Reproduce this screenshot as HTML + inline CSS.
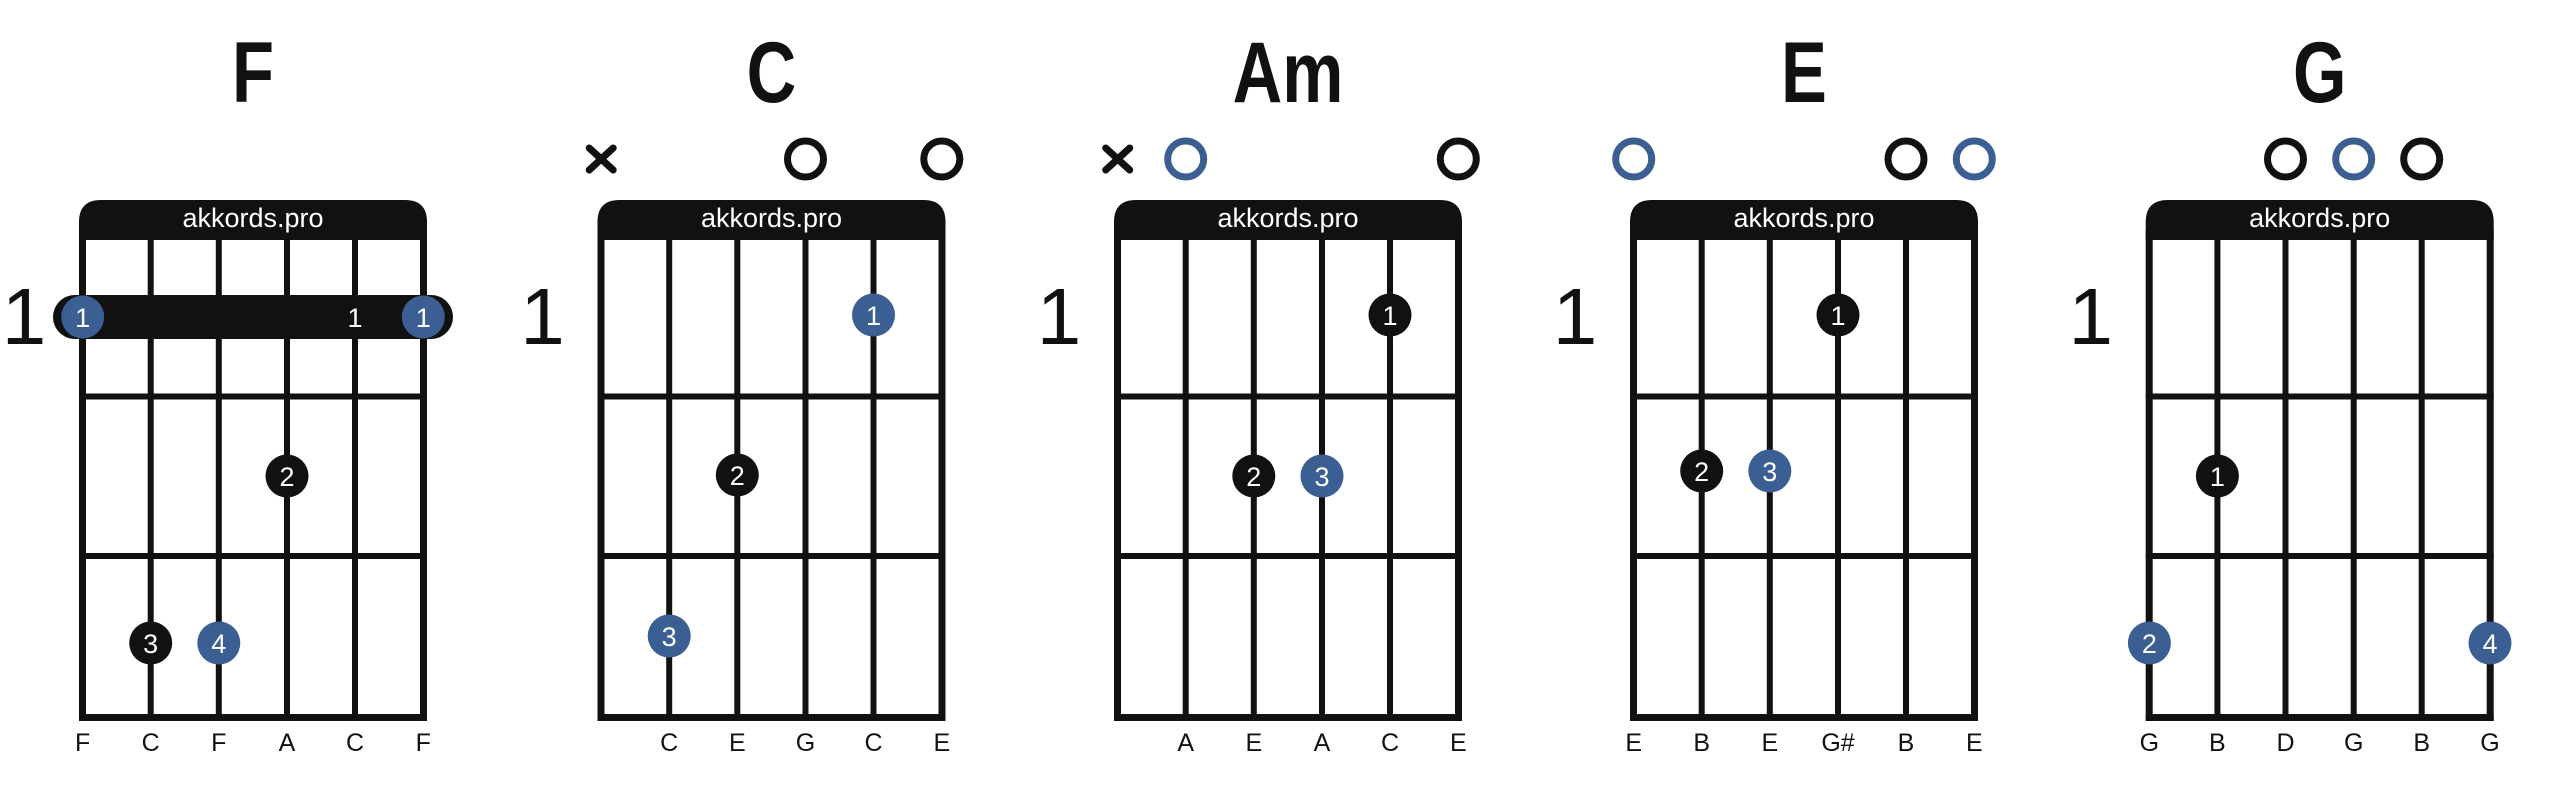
<!DOCTYPE html>
<html><head><meta charset="utf-8"><style>
html,body{margin:0;padding:0;background:#fff;width:2560px;height:796px;overflow:hidden}
svg{display:block}
.t{font-family:"Liberation Sans",sans-serif;font-weight:bold;font-size:86px;fill:#111;text-anchor:middle}
.fn{font-family:"Liberation Sans",sans-serif;font-size:80px;fill:#111;text-anchor:middle}
.hd{font-family:"Liberation Sans",sans-serif;font-size:27px;fill:#fff;text-anchor:middle}
.lb{font-family:"Liberation Sans",sans-serif;font-size:25px;fill:#111;text-anchor:middle}
.d{font-family:"Liberation Sans",sans-serif;font-size:27px;fill:#fff;text-anchor:middle}
.k{fill:#111}.b{fill:#3b5e93}
.ok{fill:none;stroke:#111;stroke-width:7}.ob{fill:none;stroke:#3b5e93;stroke-width:7}
.x{stroke:#111;stroke-width:7;stroke-linecap:round}
</style></head><body>
<svg width="2560" height="796" viewBox="0 0 2560 796" xmlns="http://www.w3.org/2000/svg">
<defs>
<g id="grid" fill="#111">
<path d="M79,240 V222 Q79,200 101,200 H405 Q427,200 427,222 V240 Z"/>
<rect x="79" y="230" width="7" height="491"/>
<rect x="420" y="230" width="7" height="491"/>
<rect x="79" y="714" width="348" height="7"/>
<rect x="147.7" y="239" width="6" height="478"/>
<rect x="215.8" y="239" width="6" height="478"/>
<rect x="284" y="239" width="6" height="478"/>
<rect x="352" y="239" width="6" height="478"/>
<rect x="79" y="393.5" width="348" height="6"/>
<rect x="79" y="553" width="348" height="6"/>
</g>
<g id="xm"><line class="x" x1="-12" y1="-11" x2="12" y2="11"/><line class="x" x1="-12" y1="11" x2="12" y2="-11"/></g>
</defs>

<!-- F -->
<g transform="translate(0,0)">
<text class="t" transform="translate(253,102) scale(0.8,1)">F</text>
<text class="fn" x="24" y="344">1</text>
<use href="#grid"/>
<text class="hd" x="253" y="227">akkords.pro</text>
<rect class="k" x="53" y="295" width="400" height="44" rx="22"/>
<circle class="b" cx="82.7" cy="317" r="21.5"/><text class="d" x="82.7" y="327">1</text>
<text class="d" x="355" y="327">1</text>
<circle class="b" cx="423.3" cy="317" r="21.5"/><text class="d" x="423.3" y="327">1</text>
<circle class="k" cx="287" cy="476" r="21.5"/><text class="d" x="287" y="486">2</text>
<circle class="k" cx="150.7" cy="643" r="21.5"/><text class="d" x="150.7" y="653">3</text>
<circle class="b" cx="218.8" cy="643" r="21.5"/><text class="d" x="218.8" y="653">4</text>
<text class="lb" x="82.7" y="751">F</text><text class="lb" x="150.7" y="751">C</text><text class="lb" x="218.8" y="751">F</text><text class="lb" x="287" y="751">A</text><text class="lb" x="355" y="751">C</text><text class="lb" x="423.3" y="751">F</text>
</g>

<!-- C -->
<g transform="translate(518.5,0)">
<text class="t" transform="translate(253,102) scale(0.8,1)">C</text>
<text class="fn" x="24" y="344">1</text>
<use href="#grid"/>
<text class="hd" x="253" y="227">akkords.pro</text>
<use href="#xm" x="82.7" y="159"/>
<circle class="ok" cx="287" cy="159" r="18"/>
<circle class="ok" cx="423.3" cy="159" r="18"/>
<circle class="b" cx="355" cy="315" r="21.5"/><text class="d" x="355" y="325">1</text>
<circle class="k" cx="218.8" cy="475" r="21.5"/><text class="d" x="218.8" y="485">2</text>
<circle class="b" cx="150.7" cy="636" r="21.5"/><text class="d" x="150.7" y="646">3</text>
<text class="lb" x="150.7" y="751">C</text><text class="lb" x="218.8" y="751">E</text><text class="lb" x="287" y="751">G</text><text class="lb" x="355" y="751">C</text><text class="lb" x="423.3" y="751">E</text>
</g>

<!-- Am -->
<g transform="translate(1035,0)">
<text class="t" transform="translate(253,102) scale(0.8,1)">Am</text>
<text class="fn" x="24" y="344">1</text>
<use href="#grid"/>
<text class="hd" x="253" y="227">akkords.pro</text>
<use href="#xm" x="82.7" y="159"/>
<circle class="ob" cx="150.7" cy="159" r="18"/>
<circle class="ok" cx="423.3" cy="159" r="18"/>
<circle class="k" cx="355" cy="315" r="21.5"/><text class="d" x="355" y="325">1</text>
<circle class="k" cx="218.8" cy="476" r="21.5"/><text class="d" x="218.8" y="486">2</text>
<circle class="b" cx="287" cy="476" r="21.5"/><text class="d" x="287" y="486">3</text>
<text class="lb" x="150.7" y="751">A</text><text class="lb" x="218.8" y="751">E</text><text class="lb" x="287" y="751">A</text><text class="lb" x="355" y="751">C</text><text class="lb" x="423.3" y="751">E</text>
</g>

<!-- E -->
<g transform="translate(1551,0)">
<text class="t" transform="translate(253,102) scale(0.8,1)">E</text>
<text class="fn" x="24" y="344">1</text>
<use href="#grid"/>
<text class="hd" x="253" y="227">akkords.pro</text>
<circle class="ob" cx="82.7" cy="159" r="18"/>
<circle class="ok" cx="355" cy="159" r="18"/>
<circle class="ob" cx="423.3" cy="159" r="18"/>
<circle class="k" cx="287" cy="315" r="21.5"/><text class="d" x="287" y="325">1</text>
<circle class="k" cx="150.7" cy="471" r="21.5"/><text class="d" x="150.7" y="481">2</text>
<circle class="b" cx="218.8" cy="471" r="21.5"/><text class="d" x="218.8" y="481">3</text>
<text class="lb" x="82.7" y="751">E</text><text class="lb" x="150.7" y="751">B</text><text class="lb" x="218.8" y="751">E</text><text class="lb" x="287" y="751">G#</text><text class="lb" x="355" y="751">B</text><text class="lb" x="423.3" y="751">E</text>
</g>

<!-- G -->
<g transform="translate(2066.7,0)">
<text class="t" transform="translate(253,102) scale(0.8,1)">G</text>
<text class="fn" x="24" y="344">1</text>
<use href="#grid"/>
<text class="hd" x="253" y="227">akkords.pro</text>
<circle class="ok" cx="218.8" cy="159" r="18"/>
<circle class="ob" cx="287" cy="159" r="18"/>
<circle class="ok" cx="355" cy="159" r="18"/>
<circle class="k" cx="150.7" cy="476" r="21.5"/><text class="d" x="150.7" y="486">1</text>
<circle class="b" cx="82.7" cy="643" r="21.5"/><text class="d" x="82.7" y="653">2</text>
<circle class="b" cx="423.3" cy="643" r="21.5"/><text class="d" x="423.3" y="653">4</text>
<text class="lb" x="82.7" y="751">G</text><text class="lb" x="150.7" y="751">B</text><text class="lb" x="218.8" y="751">D</text><text class="lb" x="287" y="751">G</text><text class="lb" x="355" y="751">B</text><text class="lb" x="423.3" y="751">G</text>
</g>
</svg>
</body></html>
